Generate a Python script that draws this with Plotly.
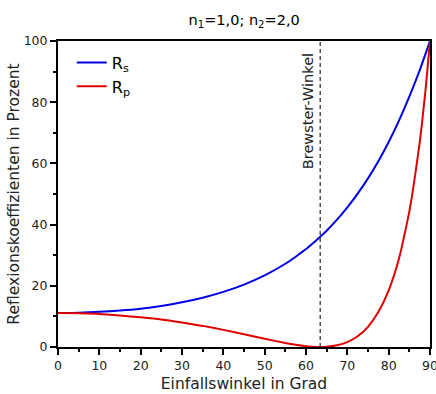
import plotly.graph_objects as go

# Einfallswinkel (Grad) and reflection coefficients (%)
angle = [0, 5, 10, 15, 20, 25, 30, 35, 40, 45, 50, 55, 57.5, 60, 62.5, 63.43, 65, 67.5, 70, 72.5, 75, 77.5, 80, 82.5, 85, 87.5, 88, 89, 90]
r_s = [11.1, 11.2, 11.5, 11.9, 12.5, 13.4, 14.6, 16.1, 18.0, 20.4, 23.4, 27.2, 29.5, 32.0, 34.9, 36.0, 38.0, 41.6, 45.6, 50.1, 55.1, 60.7, 67.0, 74.0, 81.8, 90.4, 92.3, 96.1, 100]
r_p = [11.1, 11.0, 10.8, 10.3, 9.7, 9.0, 8.0, 6.9, 5.6, 4.2, 2.7, 1.3, 0.72, 0.27, 0.02, 0.0, 0.07, 0.54, 1.6, 3.5, 6.6, 11.4, 18.5, 28.9, 44.3, 66.8, 72.4, 85.1, 100]
brewster = 63.43

x_ticks = [0, 10, 20, 30, 40, 50, 60, 70, 80, 90]
y_ticks = [0, 20, 40, 60, 80, 100]

font_family = "DejaVu Sans"

fig = go.Figure()
fig.add_trace(go.Scatter(x=angle, y=r_s, mode="lines", name="R<sub>s</sub>",
                         line=dict(color="#0000e6", width=2, shape="spline", smoothing=0.5)))
fig.add_trace(go.Scatter(x=angle, y=r_p, mode="lines", name="R<sub>p</sub>",
                         line=dict(color="#e00000", width=2, shape="spline", smoothing=0.5)))

fig.add_shape(type="line", x0=brewster, x1=brewster, y0=0, y1=100, xref="x", yref="y",
              line=dict(color="#222", width=1.2, dash="4px,3px"))
fig.add_annotation(x=brewster, y=100, xref="x", yref="y", text="Brewster-Winkel",
                   textangle=-90, showarrow=False, xanchor="right", yanchor="top",
                   xshift=-2, yshift=-10, font=dict(size=14.5, color="#222", family=font_family))

fig.update_layout(
    width=436, height=394,
    margin=dict(l=58, r=6, t=41, b=47),
    paper_bgcolor="white", plot_bgcolor="white",
    font=dict(family=font_family, color="black"),
    title=dict(text="n<sub>1</sub>=1,0; n<sub>2</sub>=2,0", x=0.56, xanchor="center",
               y=0.95, yanchor="middle", font=dict(size=14.5, color="black")),
    legend=dict(x=0.037, y=0.985, xanchor="left", yanchor="top", bgcolor="rgba(0,0,0,0)",
                font=dict(size=16, color="black")),
    xaxis=dict(range=[0, 90], tickvals=x_ticks, ticks="outside", ticklen=6, tickwidth=1.5,
               tickcolor="black", showline=True, linecolor="black", linewidth=2, mirror=True,
               showgrid=False, zeroline=False, automargin=False, ticklabeloverflow="allow",
               tickfont=dict(size=12.5, color="#222"),
               minor=dict(dtick=5, ticks="outside", ticklen=3, tickcolor="black", showgrid=False),
               title=dict(text="Einfallswinkel in Grad", font=dict(size=15.5, color="#222"), standoff=6)),
    yaxis=dict(range=[0, 100], tickvals=y_ticks, ticks="outside", ticklen=6, tickwidth=1.5,
               tickcolor="black", showline=True, linecolor="black", linewidth=2, mirror=True,
               showgrid=False, zeroline=False, automargin=False, ticklabeloverflow="allow",
               tickfont=dict(size=12.5, color="#222"),
               minor=dict(dtick=10, ticks="outside", ticklen=3, tickcolor="black", showgrid=False),
               title=dict(text="Reflexionskoeffizienten in Prozent", font=dict(size=15.5, color="#222"), standoff=0)),
)

fig.write_html("out.html", config={"displayModeBar": False},
               post_script="document.body.style.margin='0';document.body.style.padding='0';")
